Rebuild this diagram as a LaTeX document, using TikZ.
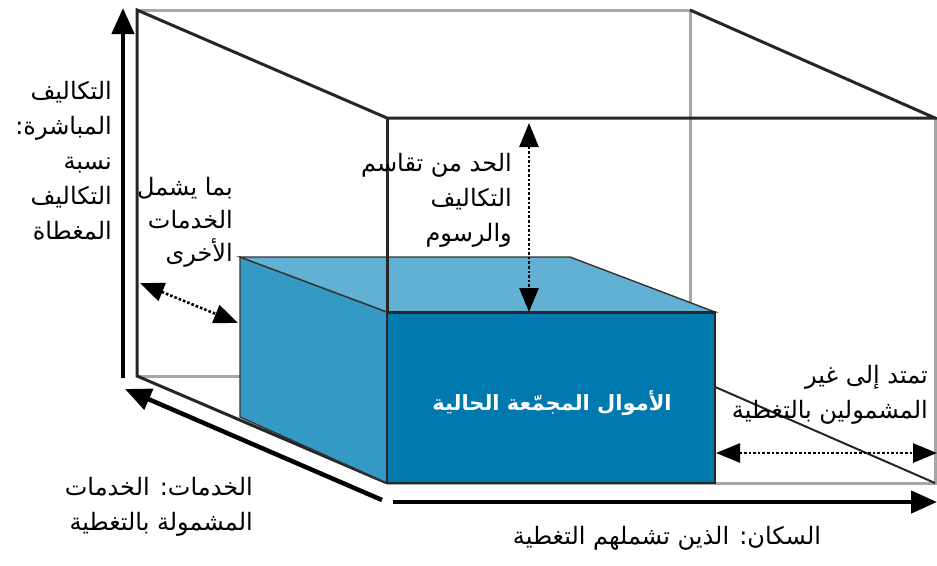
\documentclass[tikz,border=0pt]{standalone}
\usepackage{fontspec}
\usetikzlibrary{arrows.meta}
\TeXXeTstate=1
\newfontfamily\arabicfont[Script=Arabic]{DejaVu Sans}
\newcommand{\ar}[1]{{\arabicfont\beginR #1\endR}}
\definecolor{boxtop}{RGB}{98,176,211}
\definecolor{boxside}{RGB}{53,153,198}
\definecolor{boxfront}{RGB}{0,121,174}

\begin{document}
\begin{tikzpicture}[x=1pt, y=-1pt, >=Stealth,
	frame/.style={line width=3pt, black!85},
	hidden/.style={line width=3pt, black!35},
	axis/.style={line width=4.5pt, -{Triangle[length=26pt,width=22pt]}},
	span/.style={dotted, line width=2.6pt, {Triangle[length=24pt,width=19pt]}-{Triangle[length=24pt,width=19pt]}},
	lab/.style={font=\fontsize{24}{35}\selectfont, align=right, inner sep=0pt}]
	\useasboundingbox (0,0) rectangle (937,565);
	
	% Vertici della cornice
	\coordinate (b1) at (137,10);
	\coordinate (b2) at (690,10);
	\coordinate (b3) at (690,376);
	\coordinate (b4) at (137,376);
	\coordinate (f1) at (387,118);
	\coordinate (f2) at (935,118);
	\coordinate (f3) at (935,483);
	\coordinate (f4) at (387,483);
	
	% Spigoli nascosti
	\draw[hidden] (b1) -- (b2) -- (b3);
	\draw[hidden] (b4) -- (b3);
	\draw[hidden] (f2) -- (f3) -- (f4);
	\draw[frame, line width=2pt] (b3) -- (f3);
	
	% Spigoli visibili
	\draw[frame] (f4) -- (b4) -- (b1) -- (f1) -- (f2) -- (b2);
	
	% Blocco dei fondi
	\coordinate (t1) at (240,257);
	\coordinate (t2) at (570,257);
	\coordinate (t3) at (715,312);
	\coordinate (t4) at (387,312);
	\coordinate (s1) at (240,417);
	\coordinate (s2) at (387,483);
	\coordinate (s3) at (715,483);
	\filldraw[fill=boxside, draw=black!80, line width=1.4pt] (t1) -- (t4) -- (s2) -- (s1) -- cycle;
	\filldraw[fill=boxtop, draw=black!80, line width=1.4pt] (t1) -- (t2) -- (t3) -- (t4) -- cycle;
	\filldraw[fill=boxfront, draw=black!85, line width=2pt] (t4) -- (t3) -- (s3) -- (s2) -- cycle;
	\draw[black!85, line width=3pt] (t4) -- (t3);
	\draw[frame] (f1) -- (t4);
	
	% Assi
	\coordinate (v0) at (123,378);
	\coordinate (v1) at (123,8);
	\coordinate (d0) at (382,500);
	\coordinate (d1) at (125,389);
	\coordinate (h0) at (393,502);
	\coordinate (h1) at (937,502);
	\draw[axis] (v0) -- (v1);
	\draw[axis] (d0) -- (d1);
	\draw[axis] (h0) -- (h1);
	
	% Frecce tratteggiate
	\coordinate (p1) at (529,123);
	\coordinate (p2) at (529,312);
	\coordinate (q1) at (140,283);
	\coordinate (q2) at (238,323);
	\coordinate (r1) at (716,453);
	\coordinate (r2) at (937,453);
	\foreach \a/\b in {p1/p2, q1/q2, r1/r2}
		\draw[span] (\a) -- (\b);
	
	% Etichette
	\node[lab, anchor=east] (costlab) at (112,161) {\ar{التكاليف}\\ \ar{المباشرة:}\\ \ar{نسبة}\\ \ar{التكاليف}\\ \ar{المغطاة}};
	\node[lab, anchor=east, font=\fontsize{24}{33}\selectfont] (otherlab) at (233,222) {\ar{بما يشمل}\\ \ar{الخدمات}\\ \ar{الأخرى}};
	\node[lab, anchor=east] (sharelab) at (512,200) {\ar{الحد من تقاسم}\\ \ar{التكاليف}\\ \ar{والرسوم}};
	\node[lab, anchor=east] (extlab) at (928,395) {\ar{تمتد إلى غير}\\ \ar{المشمولين بالتغطية}};
	\node[lab, anchor=east] (servlab) at (253,507) {\ar{الخدمات: الخدمات}\\ \ar{المشمولة بالتغطية}};
	\node[lab] (poplab) at (667,538) {\ar{السكان: الذين تشملهم التغطية}};
	\node[lab, text=white, font=\fontsize{21}{24}\selectfont\bfseries] (poollab) at (552,403) {\ar{الأموال المجمّعة الحالية}};
\end{tikzpicture}
\end{document}
